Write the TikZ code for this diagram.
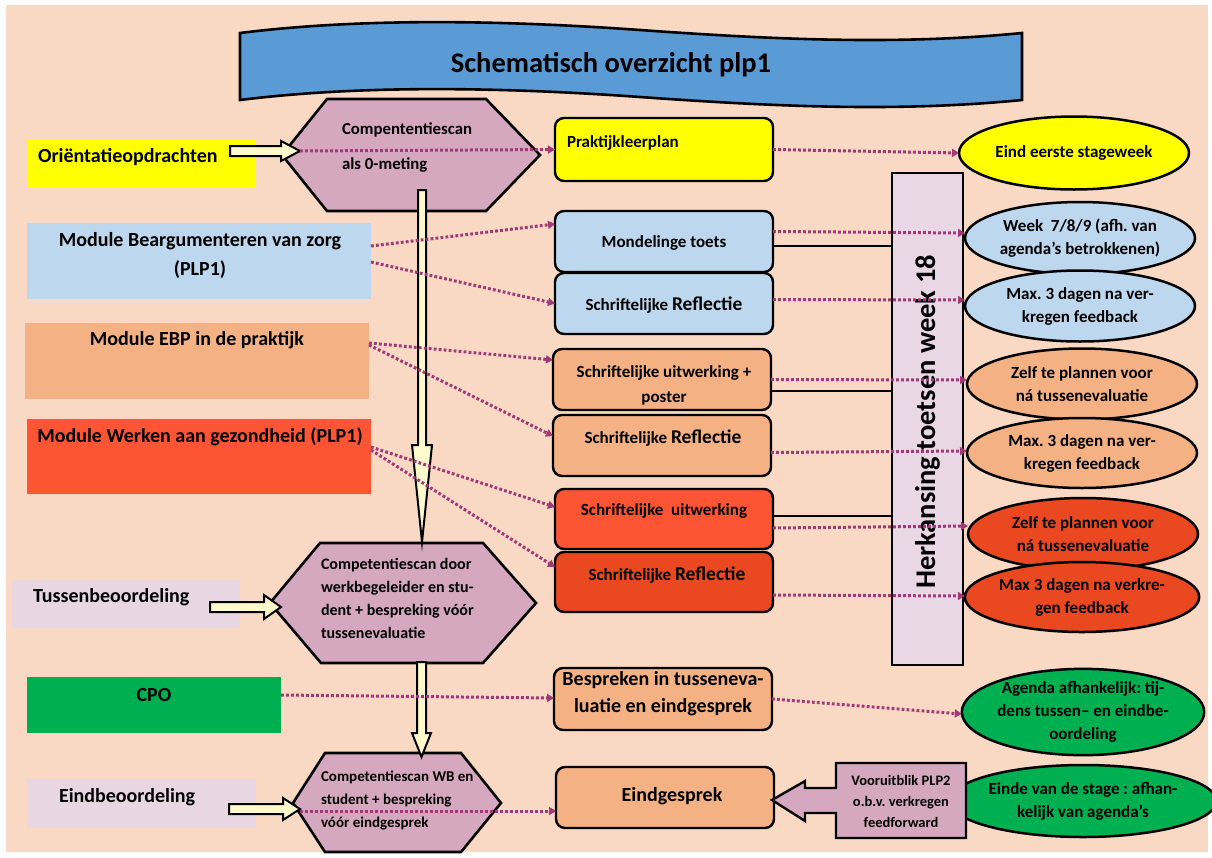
\documentclass[tikz,border=0pt]{standalone}
\usepackage{fontspec}
\setmainfont{Carlito}
\usetikzlibrary{arrows.meta,calc,shapes.geometric}
\definecolor{bg}{HTML}{F9D9C3}
\definecolor{ylw}{HTML}{FFFF00}
\definecolor{lblue}{HTML}{BDD7EE}
\definecolor{lorg}{HTML}{F4B183}
\definecolor{redA}{HTML}{FC5534}
\definecolor{redB}{HTML}{E94820}
\definecolor{grn}{HTML}{00B050}
\definecolor{lav}{HTML}{E8D6E3}
\definecolor{barc}{HTML}{E9D7E5}
\definecolor{hexc}{HTML}{D5A8C0}
\definecolor{cream}{HTML}{FFF9CC}
\definecolor{banner}{HTML}{5B9BD5}
\definecolor{dotc}{HTML}{A0387A}
\newcommand\fsz[2]{\fontsize{#1}{#2}\selectfont\bfseries}
\frenchspacing
\begin{document}
\begin{tikzpicture}[x=1pt,y=-1pt,
  lbox/.style={draw=none, inner sep=0pt, outer sep=0pt, anchor=north west},
  mbox/.style={draw=black, line width=2.4pt, rounded corners=9pt, inner sep=0pt, outer sep=0pt, anchor=north west, minimum width=218pt, minimum height=61pt},
  ell/.style={ellipse, draw=black, line width=2.5pt, inner sep=0pt, outer sep=0pt, minimum width=230pt, minimum height=71pt, align=center, font=\fsz{17}{23}},
  hexs/.style={draw=black, line width=2.6pt, fill=hexc, line join=miter},
  barrow/.style={draw=black, line width=2pt, fill=cream, line join=miter},
  dot/.style={draw=dotc, line width=3pt, dash pattern=on 2.8pt off 2.2pt, -{Triangle[length=7pt,width=8pt,fill=dotc]}},
  conn/.style={draw=black, line width=2pt},
  ltxt/.style={inner sep=0pt, outer sep=0pt, align=center, font=\fsz{20}{29}},
  mtxt/.style={inner sep=0pt, outer sep=0pt, align=center, font=\fsz{17}{25}},
  htxt/.style={inner sep=0pt, outer sep=0pt, align=left, anchor=west}
]
\useasboundingbox (0,0) rectangle (1212,857);
\fill[white] (0,0) rectangle (1212,857);
\fill[bg] (6,5) rectangle (1208,852);

% title banner
\draw[fill=banner, line width=2.6pt, line join=miter]
  (240,33) .. controls (360,18) and (500,20) .. (640,30)
  .. controls (780,40) and (900,45) .. (1022,33)
  -- (1022,100)
  .. controls (900,112) and (780,107) .. (640,97)
  .. controls (500,87) and (360,85) .. (240,100) -- cycle;
\node[font=\fsz{28.5}{30}, anchor=base, inner sep=0pt] (title) at (611,72) {Schematisch overzicht plp1};

% left boxes
\node[lbox, fill=ylw, minimum width=229pt, minimum height=48pt] (ori) at (27,140) {};
\node[lbox, fill=lblue, minimum width=344pt, minimum height=76pt] (mbz) at (27,223) {};
\node[lbox, fill=lorg, minimum width=344pt, minimum height=76pt] (ebp) at (25,323) {};
\node[lbox, fill=redA, minimum width=344pt, minimum height=75pt] (werk) at (27,419) {};
\node[lbox, fill=lav, minimum width=228pt, minimum height=48pt] (tus) at (12,580) {};
\node[lbox, fill=grn, minimum width=254pt, minimum height=56pt] (cpo) at (27,677) {};
\node[lbox, fill=lav, minimum width=229pt, minimum height=49pt] (eind) at (27,779) {};
\node[ltxt, anchor=west] (oriT) at (38,157) {Oriëntatieopdrachten};
\node[ltxt] (mbzT) at (200,255) {Module Beargumenteren van zorg\\(PLP1)};
\node[ltxt] (ebpT) at (197,340) {Module EBP in de praktijk};
\node[ltxt] (werkT) at (200,437) {Module Werken aan gezondheid (PLP1)};
\node[ltxt, anchor=west] (tusT) at (33,597) {Tussenbeoordeling};
\node[ltxt] (cpoT) at (154,695) {CPO};
\node[ltxt, anchor=west] (eindT) at (59,797) {Eindbeoordeling};

% hexagons
\draw[hexs] (282,155) -- (327,99) -- (486,99) -- (540,155) -- (486,211) -- (327,211) -- cycle;
\draw[hexs] (270,603) -- (320,543) -- (483,543) -- (536,603) -- (483,663) -- (321,663) -- cycle;
\draw[hexs] (293,803) -- (325,753) -- (461,753) -- (501,803) -- (461,852) -- (325,852) -- cycle;
\node[htxt, font=\fsz{16.8}{35}] (h1) at (342,148) {Compententiescan\\als 0-meting};
\node[htxt, font=\fsz{16}{23}] (h2) at (321,598) {Competentiescan door\\werkbegeleider en stu-\\dent + bespreking vóór\\tussenevaluatie};
\node[htxt, font=\fsz{15}{23}] (h3) at (321,800) {Competentiescan WB en\\student + bespreking\\vóór eindgesprek};

% block arrows
\draw[barrow] (230,146) -- (281,146) -- (281,141) -- (300,151) -- (281,161) -- (281,156) -- (230,156) -- cycle;
\draw[barrow] (418,190) -- (426,190) -- (426,445) -- (432,445) -- (422,542) -- (412,445) -- (418,445) -- cycle;
\draw[barrow] (210,602) -- (264,602) -- (264,595) -- (281,607) -- (264,619) -- (264,612) -- (210,612) -- cycle;
\draw[barrow] (417,662) -- (426,662) -- (426,733) -- (431,733) -- (421.5,757) -- (412,733) -- (417,733) -- cycle;
\draw[barrow] (229,804) -- (283,804) -- (283,798) -- (300,809) -- (283,820) -- (283,814) -- (229,814) -- cycle;
\coordinate (a1tip) at (300,151);
\coordinate (a3tip) at (300,811);

% middle boxes
\node[mbox, fill=ylw, minimum height=63pt] (m1) at (555,118) {};
\node[mbox, fill=lblue] (m2) at (555,211) {};
\node[mbox, fill=lblue] (m3) at (555,273) {};
\node[mbox, fill=lorg] (m4) at (553,349) {};
\node[mbox, fill=lorg] (m5) at (553,415) {};
\node[mbox, fill=redA, minimum height=60pt] (m6) at (555,489) {};
\node[mbox, fill=redB, minimum height=60pt] (m7) at (555,552) {};
\node[mbox, fill=lorg, minimum height=62pt] (m8) at (554,668) {};
\node[mbox, fill=lorg] (m9) at (556,767) {};
\node[mtxt, anchor=west] (m1T) at (567,143) {Praktijkleerplan};
\node[mtxt] (m2T) at (664,243) {Mondelinge toets};
\node[mtxt] (m3T) at (664,305) {Schriftelijke {\fsz{19.5}{25}Reflectie}};
\node[mtxt] (m4T) at (664,385) {Schriftelijke uitwerking +\\poster};
\node[mtxt] (m5T) at (663,438) {Schriftelijke {\fsz{19.5}{25}Reflectie}};
\node[mtxt] (m6T) at (664,511) {Schriftelijke\ \ uitwerking};
\node[mtxt] (m7T) at (667,575) {Schriftelijke {\fsz{19.5}{25}Reflectie}};
\node[mtxt, font=\fsz{20}{27}] (m8T) at (663,694) {Bespreken in tusseneva-\\luatie en eindgesprek};
\node[mtxt, font=\fsz{20}{27}] (m9T) at (672,796) {Eindgesprek};

% retake bar
\node[lbox, draw=black, fill=barc, line width=2.4pt, minimum width=71pt, minimum height=492pt] (bar) at (892,173) {};
\node[rotate=90, anchor=base, inner sep=0pt, font=\fsz{28.5}{30}] (barT) at (935,422) {Herkansing toetsen week 18};
\coordinate (s1) at ($(m2.east)+(0,4.5)$);
\coordinate (s2) at ($(m4.east)+(0,11.5)$);
\coordinate (s3) at ($(m6.east)+(0,-3)$);
\draw[conn] (s1) -- (s1 -| bar.west);
\draw[conn] (s2) -- (s2 -| bar.west);
\draw[conn] (s3) -- (s3 -| bar.west);

% ellipses
\node[ell, fill=ylw, minimum height=73pt] (e1) at (1074,153) {Eind eerste stageweek};
\node[ell, fill=lblue, minimum height=72pt] (e2) at (1080,238) {Week\ \ 7/8/9 (afh. van\\agenda’s betrokkenen)};
\node[ell, fill=lblue] (e3) at (1080,306) {Max. 3 dagen na ver-\\kregen feedback};
\node[ell, fill=lorg] (e4) at (1082,384) {Zelf te plannen voor\\ná tussenevaluatie};
\node[ell, fill=lorg, minimum height=70pt] (e5) at (1082,453) {Max. 3 dagen na ver-\\kregen feedback};
\node[ell, fill=redB, minimum height=72pt] (e6) at (1083,534) {Zelf te plannen voor\\ná tussenevaluatie};
\node[ell, fill=redB, minimum height=70pt] (e7) at (1082,597) {Max 3 dagen na verkre-\\gen feedback};
\node[ell, fill=grn] (e8) at (1083,712) {Agenda afhankelijk: tij-\\dens tussen– en eindbe-\\oordeling};
\node[ell, fill=grn, minimum height=72pt] (e9) at (1083,801) {Einde van de stage : afhan-\\kelijk van agenda’s};

% vooruitblik callout
\draw[draw=black, line width=2.4pt, fill=hexc, line join=miter]
  (772,800) -- (805,781) -- (805,788) -- (836,788) -- (836,763) -- (966,763)
  -- (966,838) -- (836,838) -- (836,813) -- (805,813) -- (805,821) -- cycle;
\node[inner sep=0pt, align=center, font=\fsz{14.5}{21}] (voor) at (901,801) {Vooruitblik PLP2\\o.b.v. verkregen\\feedforward};

% dotted connectors
\draw[dot] (a1tip) -- (m1.west);
\draw[dot] (m1.east) -- (e1.west);
\draw[dot] ($(mbz.north east)+(0,23)$) -- ($(m2.north west)+(0,13)$);
\draw[dot] ($(mbz.north east)+(0,39)$) -- (m3.west);
\draw[dot] ($(m2.east)+(0,-10)$) -- ($(e2.west)+(0,-5)$);
\draw[dot] ($(m3.east)+(0,-4)$) -- ($(e3.west)+(0,-6)$);
\draw[dot] ($(ebp.north east)+(0,20)$) -- ($(m4.north west)+(0,11)$);
\draw[dot] ($(ebp.north east)+(0,22)$) -- ($(m5.north west)+(0,21)$);
\draw[dot] (m4.east) -- ($(e4.west)+(0,-4)$);
\draw[dot] ($(m5.east)+(0,7)$) -- ($(e5.west)+(0,-2)$);
\draw[dot] ($(werk.north east)+(0,28)$) -- ($(m6.north west)+(0,18)$);
\draw[dot] ($(werk.north east)+(0,31)$) -- ($(m7.north west)+(0,15)$);
\draw[dot] ($(m6.east)+(0,9)$) -- ($(e6.west)+(0,-8)$);
\draw[dot] ($(m7.east)+(0,13)$) -- ($(e7.west)+(0,-1)$);
\draw[dot] ($(cpo.east)+(0,-10)$) -- ($(m8.west)+(0,-1)$);
\draw[dot] (m8.east) -- ($(e8.west)+(0,2)$);
\draw[dot] (a3tip) -- ($(m9.west)+(0,13.5)$);
\end{tikzpicture}
\end{document}
